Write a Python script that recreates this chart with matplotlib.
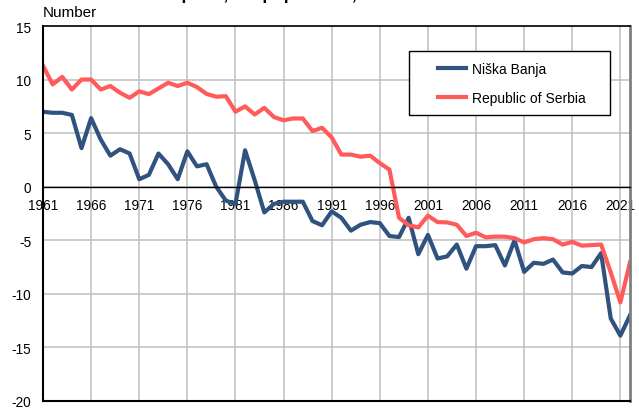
import matplotlib.pyplot as plt
from matplotlib.patches import Rectangle

plt.rcParams['font.family'] = ['Liberation Sans', 'DejaVu Sans']
plt.rcParams['axes.unicode_minus'] = False

years = list(range(1961, 2023))
niska_banja = [7.0, 6.9, 6.9, 6.7, 3.6, 6.4, 4.4, 2.9, 3.5, 3.1,
               0.7, 1.1, 3.1, 2.1, 0.7, 3.3, 1.9, 2.1, 0.0, -1.3,
               -1.6, 3.4, 0.6, -2.4, -1.6, -1.4, -1.4, -1.4, -3.2, -3.6,
               -2.3, -2.9, -4.1, -3.55, -3.3, -3.4, -4.6, -4.7, -2.9, -6.3,
               -4.5, -6.7, -6.5, -5.4, -7.65, -5.55, -5.55, -5.45, -7.35, -5.0,
               -7.95, -7.1, -7.2, -6.8, -8.0, -8.1, -7.4, -7.5, -6.2, -12.3,
               -13.9, -12.0]
serbia = [11.3, 9.55, 10.25, 9.07, 10.0, 10.0, 9.07, 9.4, 8.77, 8.3,
          8.9, 8.64, 9.17, 9.7, 9.4, 9.7, 9.3, 8.66, 8.4, 8.45,
          7.0, 7.5, 6.74, 7.36, 6.5, 6.2, 6.37, 6.37, 5.2, 5.5,
          4.6, 3.0, 3.0, 2.8, 2.9, 2.2, 1.6, -2.9, -3.6, -3.8,
          -2.7, -3.3, -3.33, -3.55, -4.6, -4.3, -4.72, -4.66, -4.66, -4.8,
          -5.2, -4.9, -4.8, -4.9, -5.4, -5.15, -5.5, -5.45, -5.4, -8.0,
          -10.8, -7.05]
x_ticks = list(range(1961, 2022, 5))
y_ticks = list(range(-20, 16, 5))

W, H = 639, 410
fig = plt.figure(figsize=(W/100, H/100), dpi=100)
ax = fig.add_axes([43/W, 1-402/H, 587/W, 375/H])

ax.plot(years, niska_banja, color='#30527F', lw=3, label='Niška Banja')
ax.plot(years, serbia, color='#FF5B5B', lw=3, label='Republic of Serbia')

ax.set_xlim(1961, 2022)
ax.set_ylim(-20, 15)
ax.set_xticks(x_ticks)
ax.set_yticks(y_ticks)
ax.grid(True, color='#BFBFBF', lw=1.1)
ax.set_axisbelow(True)

# x axis drawn through zero, frame line kept at the bottom
ax.spines['bottom'].set_position(('data', 0))
ax.spines['bottom'].set_color('black')
ax.spines['bottom'].set_linewidth(1.0)
ax.axhline(-20, color='black', lw=1.5, clip_on=False, zorder=3)
ax.spines['left'].set_linewidth(1.5)
ax.spines['top'].set_linewidth(1.2)
ax.spines['right'].set_color('#7F7F7F')
ax.spines['right'].set_linewidth(2.0)

ax.tick_params(axis='both', length=0, labelsize=9.8, colors='black')
ax.tick_params(axis='x', pad=8)
ax.tick_params(axis='y', pad=8.5)

fig.text(43/W, 1-13/H, 'Number', fontsize=11, va='center', ha='left')
fig.text(41/W, 1-0.3/H, 'Natural increase per 1,000 population, 1961–2022',
         fontsize=12.6, fontweight='bold', va='baseline', ha='left')

# legend box
lx0, lx1, ly0, ly1 = 409, 610, 52, 116
ax.add_patch(Rectangle(((lx0-43)/587, (402-ly1)/375), (lx1-lx0)/587, (ly1-ly0)/375,
                       transform=ax.transAxes, facecolor='white', edgecolor='black',
                       lw=1.0, zorder=4))
leg = ax.legend(loc='upper left', bbox_to_anchor=((438-43)/587, (402-63)/375),
                fontsize=10, frameon=False, handlelength=2.0, handletextpad=0.45,
                labelspacing=1.1, borderpad=0, borderaxespad=0)
leg.set_zorder(5)

fig.savefig('out.png', dpi=100)
